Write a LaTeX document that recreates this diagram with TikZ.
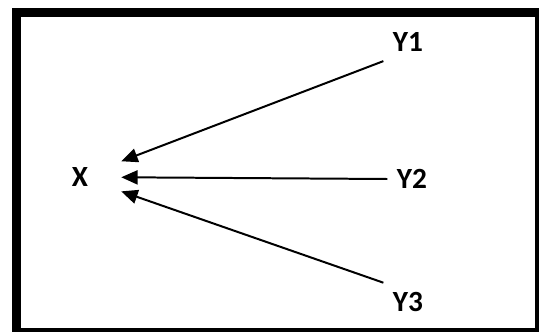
\documentclass[tikz,border=0pt]{standalone}
\usepackage{fontspec}
\setmainfont{Carlito}
\usetikzlibrary{arrows.meta}

\begin{document}
\begin{tikzpicture}[
            x=0.03cm, y=-0.03cm,
            vnode/.style={font=\fontsize{25}{30}\selectfont\bfseries, inner sep=8pt},
            arrow/.style={-{Triangle[length=14pt, width=12pt]}, line width=1.7pt}
        ]
        \useasboundingbox (0,0) rectangle (540,334);

        % --- frame ---
        \fill[black] (12,8) rectangle (539,332);
        \fill[white] (21,17) rectangle (535,328);

        % --- variables ---
        \node[vnode, minimum width=82*0.03cm, minimum height=60*0.03cm] (X) at (80,177) {X};
        \node[vnode] (Y1) at (408,42) {Y1};
        \node[vnode] (Y2) at (412,179) {Y2};
        \node[vnode] (Y3) at (408,302) {Y3};

        \draw[arrow] (Y1.south west)--(X);
        \draw[arrow] (Y2.west)--(X);
        \draw[arrow] (Y3.north west)--(X);

        \end{tikzpicture}
\end{document}
